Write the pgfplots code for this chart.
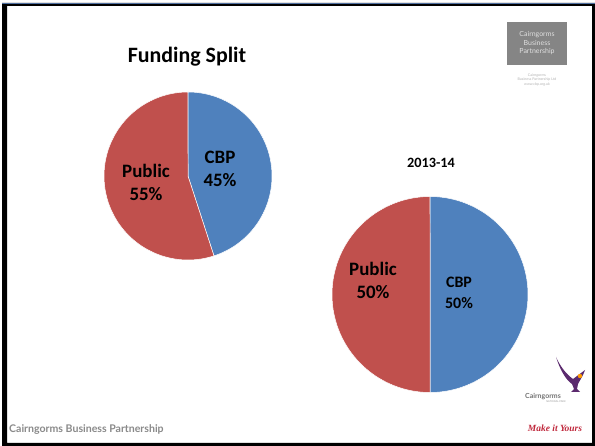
\documentclass[border=0pt]{standalone}
\usepackage{pgfplots}
\pgfplotsset{compat=1.18}
\usepackage{fontspec}
\setmainfont{Carlito}
\newfontfamily\footfont{Lato}
\newfontfamily\mkfont{Liberation Serif}
\definecolor{cbpblue}{HTML}{4F81BD}
\definecolor{pubred}{HTML}{C0504D}
\definecolor{footgray}{HTML}{8A8A8A}
\definecolor{logogray}{HTML}{858585}
\definecolor{topline}{HTML}{4F6FA0}
\definecolor{birdpurple}{HTML}{5B2A6E}
\definecolor{mkred}{HTML}{C0283C}
% data (percent)
\def\cbpA{45}\def\pubA{55}
\def\cbpB{50}\def\pubB{50}
\begin{document}
\begin{tikzpicture}
\begin{axis}[
  scale only axis, width=595bp, height=446bp,
  xmin=0, xmax=595, ymin=0, ymax=446,
  hide axis, clip=false,
]
% background
\fill[white] (0,0) rectangle (595,446);
% slide frame
\fill[black, even odd rule] (2,0) rectangle (595,443) (7,3) rectangle (592,440);
\fill[topline] (2,442.2) rectangle (595,443.4);

% ---- pie 1 : centre (188,270), r=84
\addplot[fill=cbpblue, draw=white, line width=0.5pt, domain=90:{90-3.6*\cbpA}, samples=90, variable=\t]
  ({188+84*cos(\t)},{270+84*sin(\t)}) -- (188,270) -- cycle;
\addplot[fill=pubred, draw=white, line width=0.5pt, domain={90-3.6*\cbpA}:{90-3.6*\cbpA-3.6*\pubA}, samples=90, variable=\t]
  ({188+84*cos(\t)},{270+84*sin(\t)}) -- (188,270) -- cycle;
% ---- pie 2 : centre (430,151.5), r=98
\addplot[fill=cbpblue, draw=white, line width=0.5pt, domain=90:{90-3.6*\cbpB}, samples=90, variable=\t]
  ({430+98*cos(\t)},{151.5+98*sin(\t)}) -- (430,151.5) -- cycle;
\addplot[fill=pubred, draw=white, line width=0.5pt, domain={90-3.6*\cbpB}:{90-3.6*\cbpB-3.6*\pubB}, samples=90, variable=\t]
  ({430+98*cos(\t)},{151.5+98*sin(\t)}) -- (430,151.5) -- cycle;

% titles and labels
\node[font=\fontsize{22}{26}\selectfont\bfseries] at (187,389) {Funding Split};
\node[font=\fontsize{14.3}{17}\selectfont\bfseries] at (431,283) {2013-14};
\node[font=\fontsize{19}{23}\selectfont\bfseries, align=center] at (146,264) {Public\\55\%};
\node[font=\fontsize{19}{23}\selectfont\bfseries, align=center] at (220,277) {CBP\\45\%};
\node[font=\fontsize{19}{23}\selectfont\bfseries, align=center] at (373,166) {Public\\50\%};
\node[font=\fontsize{16}{21}\selectfont\bfseries, align=center] at (459,153) {CBP\\50\%};

% footer
\node[anchor=west, font=\footfont\fontsize{10.6}{12}\selectfont\bfseries, text=footgray, inner sep=0pt] at (9,16) {Cairngorms Business Partnership};

% top-right logo
\fill[logogray] (507,381) rectangle (567,424);
\node[font=\footfont\fontsize{7}{8.5}\selectfont, text=white!75!logogray, align=center] at (537,402.5) {Cairngorms\\Business\\Partnership};
\node[font=\footfont\fontsize{3.6}{4.6}\selectfont, text=black!30, align=center] at (537,366) {Cairngorms\\Business Partnership Ltd\\www.cbp.org.uk};

% bottom-right logo (bird)
\fill[birdpurple] (556,89) .. controls (560,80) and (566,72) .. (573,67)
  -- (585,76) .. controls (583,70) and (580,66) .. (578,62)
  -- (577,57) -- (580,54) -- (571,54) -- (574,57) -- (572,62)
  .. controls (566,66) and (560,76) .. (556,89) -- cycle;
\fill[orange!80!yellow] (580,70) circle (2.2);
\node[font=\footfont\fontsize{7}{8}\selectfont\bfseries, text=black!55] at (543,49) {Cairngorms};
\node[font=\footfont\fontsize{2.5}{3}\selectfont, text=black!40] at (556,44) {NATIONAL PARK};
\node[font=\mkfont\fontsize{9.5}{10}\selectfont\itshape\bfseries, text=mkred] at (555,18) {Make it Yours};
\end{axis}
\end{tikzpicture}
\end{document}
